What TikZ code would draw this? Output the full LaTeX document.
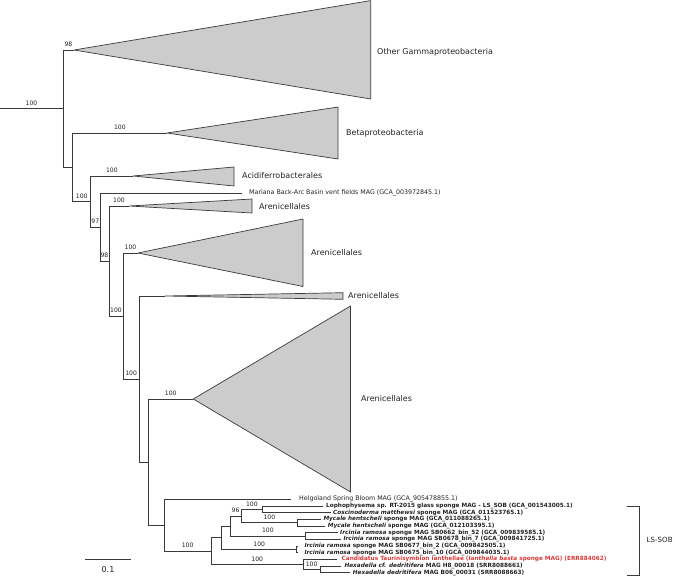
\documentclass[tikz,border=0pt]{standalone}
\usepackage{fontspec}
\setmainfont{DejaVu Sans}
\definecolor{linecol}{HTML}{3A3A3A}
\definecolor{trifill}{HTML}{CCCCCC}
\definecolor{redc}{HTML}{D43A3A}
\definecolor{txt}{HTML}{222222}
\begin{document}
\begin{tikzpicture}[x=1pt,y=-1pt,
  br/.style={draw=linecol, line width=0.8pt},
  tri/.style={draw=linecol, fill=trifill, line width=0.7pt, line join=round},
  bs/.style={font=\fontsize{6.1}{7}\selectfont, inner sep=2.8pt, anchor=south, text=txt, pos=0.75},
  clade/.style={font=\fontsize{8}{9}\selectfont, anchor=west, inner sep=0pt, text=txt},
  leaf/.style={font=\fontsize{5.75}{7}\selectfont, anchor=west, inner sep=0pt, text=txt},
  leafn/.style={font=\fontsize{6.3}{7}\selectfont, anchor=west, inner sep=0pt, text=txt},
]
\useasboundingbox (0,0) rectangle (675,578);
% internal nodes and tips
\coordinate (R0) at (0,108.6);
\coordinate (N1) at (63,108.6);
\coordinate (G) at (74,50);
\coordinate (N2) at (72.7,167.3);
\coordinate (B) at (167,133);
\coordinate (N3) at (90.7,201.5);
\coordinate (A) at (133,176);
\coordinate (N4) at (100,227);
\coordinate (M) at (242,193);
\coordinate (N5) at (109,261);
\coordinate (Ar1) at (129,206);
\coordinate (N6) at (123,316);
\coordinate (Ar2) at (138,253);
\coordinate (N7) at (139.3,379);
\coordinate (Ar3) at (165,296);
\coordinate (N8) at (148.3,462.1);
\coordinate (Ar4) at (193.3,399);
\coordinate (N9) at (164,525.2);
\coordinate (H) at (290.7,499.3);
\coordinate (N10) at (211.3,551);
\coordinate (N11) at (221.7,537.7);
\coordinate (N12) at (230,526);
\coordinate (N13) at (241,516);
\coordinate (N14) at (262.7,509.3);
\coordinate (L1) at (323,506);
\coordinate (L2) at (331,512.7);
\coordinate (N15) at (297.7,522.7);
\coordinate (L3) at (321,519.3);
\coordinate (L4) at (325,526);
\coordinate (N16) at (305.7,536);
\coordinate (L5) at (338,532.7);
\coordinate (L6) at (341,539.3);
\coordinate (N17) at (296.7,549.3);
\coordinate (L7) at (297.2,546);
\coordinate (L8) at (297.2,552.7);
\coordinate (N18) at (303.3,564.3);
\coordinate (L9) at (337,559.3);
\coordinate (N19) at (320,569.3);
\coordinate (L10) at (341,566);
\coordinate (L11) at (350,572.7);

% collapsed clades
\draw[tri] (G) -- (370.7,0.6) -- (370.7,99) -- cycle;
\draw[tri] (B) -- (338,107) -- (338,159) -- cycle;
\draw[tri] (A) -- (234,167) -- (234,186) -- cycle;
\draw[tri] (Ar1) -- (252,199) -- (252,213) -- cycle;
\draw[tri] (Ar2) -- (303,219) -- (303,286.5) -- cycle;
\draw[tri] (Ar3) -- (343,292.7) -- (343,299.3) -- cycle;
\draw[tri] (Ar4) -- (350.5,306) -- (350.5,492) -- cycle;

% branches
\draw[br] (R0) -- node[bs,pos=0.5]{100} (N1);
\draw[br] (N1) |- node[bs]{98} (G);
\draw[br] (N1) |- (N2);
\draw[br] (N2) |- node[bs]{100} (B);
\draw[br] (N2) |- node[bs]{100} (N3);
\draw[br] (N3) |- node[bs]{100} (A);
\draw[br] (N3) |- node[bs]{97} (N4);
\draw[br] (N4) |- (M);
\draw[br] (N4) |- node[bs]{98} (N5);
\draw[br] (N5) |- node[bs]{100} (Ar1);
\draw[br] (N5) |- node[bs]{100} (N6);
\draw[br] (N6) |- node[bs]{100} (Ar2);
\draw[br] (N6) |- node[bs]{100} (N7);
\draw[br] (N7) |- (Ar3);
\draw[br] (N7) |- (N8);
\draw[br] (N8) |- node[bs]{100} (Ar4);
\draw[br] (N8) |- (N9);
\draw[br] (N9) |- (H);
\draw[br] (N9) |- node[bs]{100} (N10);
\draw[br] (N10) |- (N11);
\draw[br] (N10) |- node[bs]{100} (N18);
\draw[br] (N11) |- (N12);
\draw[br] (N11) |- node[bs]{100} (N17);
\draw[br] (N12) |- node[bs]{96} (N13);
\draw[br] (N12) |- node[bs]{100} (N16);
\draw[br] (N13) |- node[bs]{100} (N14);
\draw[br] (N13) |- node[bs]{100} (N15);
\draw[br] (N14) |- (L1);
\draw[br] (N14) |- (L2);
\draw[br] (N15) |- (L3);
\draw[br] (N15) |- (L4);
\draw[br] (N16) |- (L5);
\draw[br] (N16) |- (L6);
\draw[br] (N17) |- (L7);
\draw[br] (N17) |- (L8);
\draw[br] (N18) |- (L9);
\draw[br] (N18) |- node[bs]{100} (N19);
\draw[br] (N19) |- (L10);
\draw[br] (N19) |- (L11);

% clade labels
\node[clade] (tG) at (377,52) {Other Gammaproteobacteria};
\node[clade] (tB) at (346,133) {Betaproteobacteria};
\node[clade] (tA) at (242,176) {Acidiferrobacterales};
\node[clade] (tAr1) at (259,207) {Arenicellales};
\node[clade] (tAr2) at (311,253) {Arenicellales};
\node[clade] (tAr3) at (348,296) {Arenicellales};
\node[clade] (tAr4) at (361,399) {Arenicellales};

% leaf labels
\node[leafn] (tM) at (249,193) {Mariana Back-Arc Basin vent fields MAG (GCA\_003972845.1)};
\node[leafn] (tH) at (299,499.3) {Helgoland Spring Bloom MAG (GCA\_905478855.1)};
\node[leaf] (tL1) at (326,506) {\textbf{Lophophysema sp. RT-2015 glass sponge MAG - LS\_SOB (GCA\_001543005.1)}};
\node[leaf] (tL2) at (333,512.7) {\textbf{\textit{Coscinoderma matthewsi} sponge MAG (GCA\_011523765.1)}};
\node[leaf] (tL3) at (323.3,519.3) {\textbf{\textit{Mycale hentscheli} sponge MAG (GCA\_011088265.1)}};
\node[leaf] (tL4) at (327.7,526) {\textbf{\textit{Mycale hentscheli} sponge MAG (GCA\_012103395.1)}};
\node[leaf] (tL5) at (340,532.7) {\textbf{\textit{Ircinia ramosa} sponge MAG SB0662\_bin\_52 (GCA\_009839585.1)}};
\node[leaf] (tL6) at (343.3,539.3) {\textbf{\textit{Ircinia ramosa} sponge MAG SB0678\_bin\_7 (GCA\_009841725.1)}};
\node[leaf] (tL7) at (304.3,546) {\textbf{\textit{Ircinia ramosa} sponge MAG SB0677\_bin\_2 (GCA\_009842505.1)}};
\node[leaf] (tL8) at (304.3,552.7) {\textbf{\textit{Ircinia ramosa} sponge MAG SB0675\_bin\_10 (GCA\_009844035.1)}};
\node[leaf,text=redc] (tL9) at (341.5,559.3) {\textbf{Candidatus Taurinisymbion ianthellae (\textit{Ianthella basta} sponge MAG) (ERR884062)}};
\node[leaf] (tL10) at (344.3,566) {\textbf{\textit{Hexadella cf. dedritifera} MAG H8\_00018 (SRR8088661)}};
\node[leaf] (tL11) at (352.7,572.7) {\textbf{\textit{Hexadella dedritifera} MAG B06\_00031 (SRR8088663)}};

% LS-SOB bracket
\coordinate (bt) at (639,506.7);
\coordinate (bb) at (639,575.7);
\draw[br] (626.7,506.7) -- (bt) -- (bb) -- (626.7,575.7);
\node[clade,font=\fontsize{7.1}{8}\selectfont] (tLS) at (646.5,540) {LS-SOB};

% scale bar
\coordinate (s0) at (85,559.3);
\coordinate (s1) at (130.7,559.3);
\draw[br] (s0) -- (s1);
\node[clade,anchor=center] (tS) at (108,569.5) {0.1};
\end{tikzpicture}
\end{document}
